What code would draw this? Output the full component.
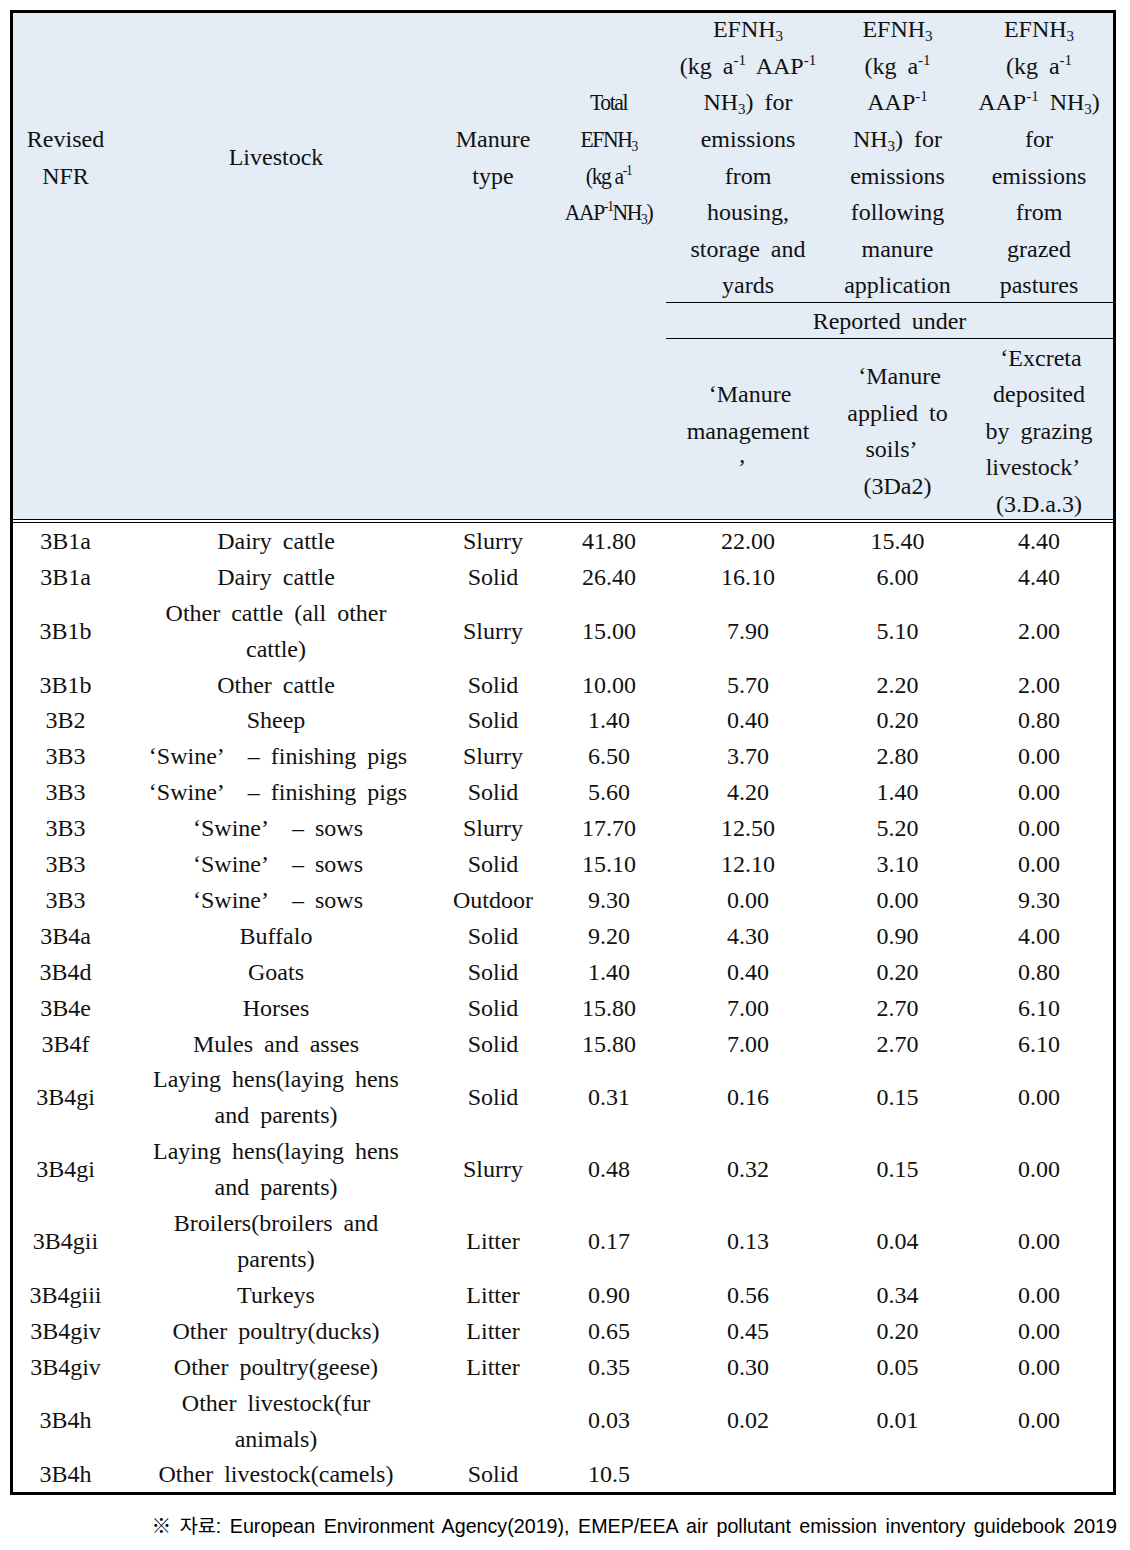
import React from 'react'

// body rows of the table (one entry per row)
const nfrCodes = [
  '3B1a', '3B1a', '3B1b', '3B1b', '3B2', '3B3', '3B3', '3B3', '3B3', '3B3', '3B4a',
  '3B4d', '3B4e', '3B4f', '3B4gi', '3B4gi', '3B4gii', '3B4giii', '3B4giv', '3B4giv', '3B4h', '3B4h',
]
const livestock = [
  'Dairy cattle', 'Dairy cattle', 'Other cattle (all other\ncattle)', 'Other cattle', 'Sheep',
  '‘Swine’ – finishing pigs', '‘Swine’ – finishing pigs', '‘Swine’ – sows', '‘Swine’ – sows', '‘Swine’ – sows',
  'Buffalo', 'Goats', 'Horses', 'Mules and asses',
  'Laying hens(laying hens\nand parents)', 'Laying hens(laying hens\nand parents)',
  'Broilers(broilers and\nparents)', 'Turkeys', 'Other poultry(ducks)', 'Other poultry(geese)',
  'Other livestock(fur\nanimals)', 'Other livestock(camels)',
]
const manureType = [
  'Slurry', 'Solid', 'Slurry', 'Solid', 'Solid', 'Slurry', 'Solid', 'Slurry', 'Solid', 'Outdoor', 'Solid',
  'Solid', 'Solid', 'Solid', 'Solid', 'Slurry', 'Litter', 'Litter', 'Litter', 'Litter', '', 'Solid',
]
const totalEF = [
  '41.80', '26.40', '15.00', '10.00', '1.40', '6.50', '5.60', '17.70', '15.10', '9.30', '9.20',
  '1.40', '15.80', '15.80', '0.31', '0.48', '0.17', '0.90', '0.65', '0.35', '0.03', '10.5',
]
const housingEF = [
  '22.00', '16.10', '7.90', '5.70', '0.40', '3.70', '4.20', '12.50', '12.10', '0.00', '4.30',
  '0.40', '7.00', '7.00', '0.16', '0.32', '0.13', '0.56', '0.45', '0.30', '0.02', '',
]
const applicationEF = [
  '15.40', '6.00', '5.10', '2.20', '0.20', '2.80', '1.40', '5.20', '3.10', '0.00', '0.90',
  '0.20', '2.70', '2.70', '0.15', '0.15', '0.04', '0.34', '0.20', '0.05', '0.01', '',
]
const grazedEF = [
  '4.40', '4.40', '2.00', '2.00', '0.80', '0.00', '0.00', '0.00', '0.00', '9.30', '4.00',
  '0.80', '6.10', '6.10', '0.00', '0.00', '0.00', '0.00', '0.00', '0.00', '0.00', '',
]

// header labels, ^{..} = superscript, _{..} = subscript
const headLeft = [
  'Revised\nNFR',
  'Livestock',
  'Manure\ntype',
  'Total\nEFNH_{3}\n(kg a^{-1}\nAAP^{-1}NH_{3})',
]
const headRight = [
  'EFNH_{3}\n(kg a^{-1} AAP^{-1}\nNH_{3}) for\nemissions\nfrom\nhousing,\nstorage and\nyards',
  'EFNH_{3}\n(kg a^{-1}\nAAP^{-1}\nNH_{3}) for\nemissions\nfollowing\nmanure\napplication',
  'EFNH_{3}\n(kg a^{-1}\nAAP^{-1} NH_{3})\nfor\nemissions\nfrom\ngrazed\npastures',
]
const reportedUnder = 'Reported under'
const reportedCats = [
  '‘Manure\nmanagement\n’',
  '‘Manure\napplied to\nsoils’\n(3Da2)',
  '‘Excreta\ndeposited\nby grazing\nlivestock’\n(3.D.a.3)',
]
const sourceNote = '※ 자료: European Environment Agency(2019), EMEP/EEA air pollutant emission inventory guidebook 2019'

const colEdges = [13, 118, 434, 552, 666, 830, 965, 1113]
const TOP = 13
const UPPER_END = 302
const MID_END = 339
const HEAD_END = 519
const BODY_START = 523
const UNIT = 35.9

function renderLine(line: string, key: number) {
  const parts = line.split(/(\^\{[^}]*\}|_\{[^}]*\}|‘|’)/).filter((p) => p !== '')
  return (
    <div key={key}>
      {parts.map((p, i) => {
        if (p.startsWith('^{'))
          return <span key={i} style={{ fontSize: 15, position: 'relative', top: -9, lineHeight: 0 }}>{p.slice(2, -1)}</span>
        if (p.startsWith('_{'))
          return <span key={i} style={{ fontSize: 15, position: 'relative', top: 4, lineHeight: 0 }}>{p.slice(2, -1)}</span>
        if (p === '‘')
          return <span key={i} style={{ display: 'inline-block', width: 12, textAlign: 'right' }}>‘</span>
        if (p === '’')
          return <span key={i} style={{ display: 'inline-block', width: 20, textAlign: 'left' }}>’</span>
        return <span key={i}>{p}</span>
      })}
    </div>
  )
}

function Cell({ x0, x1, y0, y1, text, lh = 36, extra }: {
  x0: number; x1: number; y0: number; y1: number; text: string; lh?: number; extra?: React.CSSProperties
}) {
  return (
    <div
      style={{
        position: 'absolute', left: x0, top: y0, width: x1 - x0, height: y1 - y0,
        display: 'flex', alignItems: 'center', justifyContent: 'center',
      }}
    >
      <div style={{ textAlign: 'center', lineHeight: `${lh}px`, whiteSpace: 'pre', wordSpacing: 5, ...extra }}>
        {text.split('\n').map((l, i) => renderLine(l, i))}
      </div>
    </div>
  )
}

export default function App() {
  const rows: { y0: number; y1: number }[] = []
  let y = BODY_START
  livestock.forEach((l) => {
    const n = l.split('\n').length
    rows.push({ y0: y, y1: y + n * UNIT })
    y += n * UNIT
  })
  const bodyCols = [nfrCodes, livestock, manureType, totalEF, housingEF, applicationEF, grazedEF]

  return (
    <div
      style={{
        position: 'absolute', left: 0, top: 0, width: 1130, height: 1550, background: '#fff',
        fontFamily: '"Liberation Serif", "DejaVu Serif", serif', fontSize: 24, color: '#111',
      }}
    >
      {/* table frame */}
      <div
        style={{
          position: 'absolute', left: 10, top: 10, width: 1106, height: y + 3 - 10,
          border: '3px solid #000', boxSizing: 'border-box',
        }}
      />
      {/* header background */}
      <div style={{ position: 'absolute', left: 13, top: TOP, width: 1100, height: HEAD_END - TOP, background: '#e4ecf6' }} />
      {/* header rules */}
      <div style={{ position: 'absolute', left: 666, top: UPPER_END, width: 447, height: 1.3, background: '#000' }} />
      <div style={{ position: 'absolute', left: 666, top: MID_END - 1, width: 447, height: 1.3, background: '#000' }} />
      <div style={{ position: 'absolute', left: 13, top: HEAD_END, width: 1100, height: 1.3, background: '#000' }} />
      <div style={{ position: 'absolute', left: 13, top: HEAD_END + 2.5, width: 1100, height: 1.3, background: '#000' }} />

      {headLeft.map((t, i) => (
        <Cell key={`hl${i}`} x0={colEdges[i]} x1={colEdges[i + 1]} y0={TOP} y1={UPPER_END} text={t} lh={36.8}
          extra={i === 3 ? { transform: 'scaleX(0.9)', letterSpacing: -1.5, wordSpacing: 0 } : undefined} />
      ))}
      {headRight.map((t, i) => (
        <Cell key={`hr${i}`} x0={colEdges[i + 4]} x1={colEdges[i + 5]} y0={TOP} y1={UPPER_END} text={t} lh={36.6} />
      ))}
      <Cell x0={666} x1={1113} y0={UPPER_END} y1={MID_END} text={reportedUnder} />
      {reportedCats.map((t, i) => (
        <Cell key={`rc${i}`} x0={colEdges[i + 4]} x1={colEdges[i + 5]} y0={MID_END} y1={HEAD_END + 4} text={t} lh={36.5} />
      ))}

      {bodyCols.map((col, c) =>
        col.map((t, r) => (
          <Cell key={`b${c}-${r}`} x0={colEdges[c]} x1={colEdges[c + 1]} y0={rows[r].y0} y1={rows[r].y1} text={t} />
        ))
      )}

      <div
        style={{
          position: 'absolute', right: 13, top: 1513, lineHeight: '26px', whiteSpace: 'pre',
          fontFamily: '"Liberation Sans", "Noto Sans CJK KR", sans-serif', fontSize: 19.7, color: '#000', wordSpacing: 3,
        }}
      >
        {sourceNote}
      </div>
    </div>
  )
}
